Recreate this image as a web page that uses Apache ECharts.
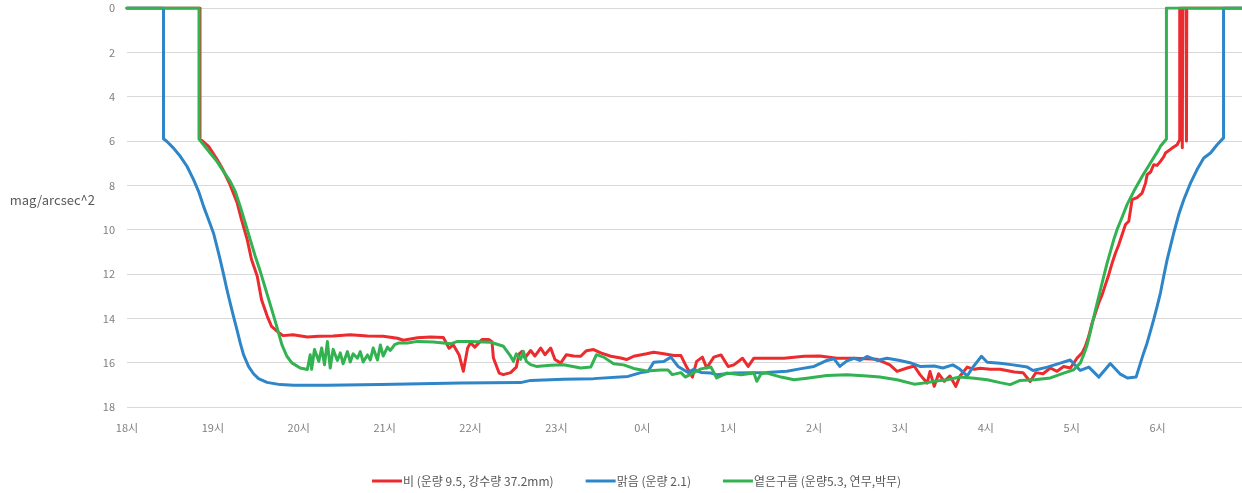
<!DOCTYPE html>
<html>
<head>
<meta charset="utf-8">
<script src="https://cdn.jsdelivr.net/npm/echarts@6/dist/echarts.min.js"></script>
<style>
  html, body { margin: 0; padding: 0; background: #fff; }
  #chart { width: 1242px; height: 493px; }
</style>
</head>
<body>
<div id="chart"></div>
<script>
// Sky brightness over one night, [minutes after 18:00, mag/arcsec^2]
const seriesNames = ['비 (운량 9.5, 강수량 37.2mm)', '맑음 (운량 2.1)', '옅은구름 (운량5.3, 연무,박무)'];
const seriesColors = ['#EC2B2E', '#2E86C9', '#32B251'];
const hourLabels = ['18시', '19시', '20시', '21시', '22시', '23시', '0시', '1시', '2시', '3시', '4시', '5시', '6시'];

const rainNight = [
  [0, 0], [51, 0], [51, 5.91], [57, 6.24], [63, 6.84], [67, 7.29], [72, 7.97], [77, 8.8], [80, 9.55],
  [84, 10.45], [87, 11.35], [91, 12.1], [94, 13.16], [98, 13.91], [101, 14.36], [105, 14.59], [109, 14.78],
  [116, 14.74], [126, 14.84], [134, 14.81], [144, 14.8], [156, 14.74], [168, 14.8], [179, 14.81],
  [189, 14.9], [193, 14.99], [203, 14.88], [212, 14.84], [221, 14.86], [225, 15.35], [228, 15.2],
  [232, 15.64], [235, 16.39], [238, 15.34], [240, 15.1], [243, 15.3], [248, 14.96], [253, 14.96],
  [255, 15.05], [256, 15.79], [260, 16.47], [263, 16.54], [268, 16.45], [272, 16.2], [274, 15.6],
  [276, 15.49], [278, 15.79], [282, 15.45], [285, 15.7], [289, 15.34], [292, 15.64], [296, 15.34],
  [299, 15.86], [303, 16.02], [307, 15.64], [312, 15.7], [317, 15.71], [321, 15.46], [326, 15.41],
  [331, 15.56], [338, 15.71], [345, 15.79], [349, 15.86], [354, 15.71], [363, 15.6], [368, 15.53],
  [375, 15.6], [382, 15.68], [387, 15.68], [391, 16.2], [395, 16.65], [398, 15.94], [402, 15.75],
  [405, 16.24], [410, 15.75], [415, 15.65], [420, 16.17], [424, 16.1], [430, 15.8], [434, 16.17],
  [438, 15.8], [450, 15.8], [459, 15.8], [473, 15.71], [484, 15.7], [496, 15.8], [508, 15.8],
  [524, 15.85], [533, 16.1], [538, 16.39], [545, 16.24], [550, 16.15], [554, 16.54], [559, 16.92],
  [561, 16.4], [564, 17.07], [567, 16.5], [571, 16.84], [575, 16.6], [579, 17.07], [582, 16.6],
  [587, 16.2], [592, 16.3], [596, 16.25], [603, 16.3], [610, 16.3], [620, 16.42], [626, 16.45],
  [631, 16.85], [635, 16.45], [640, 16.5], [645.1, 16.24], [649.8, 16.39], [654.4, 16.17],
  [659.1, 16.24], [663.8, 15.79], [667.3, 15.56], [669.6, 15.26], [671.9, 14.81], [674.3, 14.21],
  [676.6, 13.76], [678.9, 13.31], [681.3, 12.93], [683.6, 12.48], [685.9, 12.03], [688.3, 11.5],
  [690.6, 11.05], [692.9, 10.68], [695.2, 10.23], [697.6, 9.77], [699.9, 9.62], [702.2, 8.65],
  [705.7, 8.55], [709.2, 8.35], [711.6, 7.9], [712.7, 7.52], [715.1, 7.4], [717.3, 7.07],
  [719.7, 7.1], [722, 6.92], [724.3, 6.72], [725.5, 6.54], [730.2, 6.32], [733.7, 6.17],
  [735.5, 5.94], [735.5, 0], [737, 0], [737.3, 6.3], [737.6, 0], [740, 0], [740.2, 6.0],
  [740.4, 0], [779, 0]
];

const clearNight = [
  [0, 0], [25.5, 0], [25.5, 5.9], [27.9, 6.02], [32.5, 6.32], [37.2, 6.69], [41.9, 7.14],
  [46.5, 7.74], [50, 8.27], [53.5, 8.95], [57, 9.55], [60.4, 10.15], [62.8, 10.75], [65.1, 11.35],
  [67.5, 12.03], [69.8, 12.7], [72.1, 13.31], [74.4, 13.91], [76.8, 14.51], [79.1, 15.11],
  [81.4, 15.64], [84.9, 16.17], [88.4, 16.5], [91.9, 16.72], [97.8, 16.89], [107, 16.99],
  [116.4, 17.02], [140, 17.02], [177, 16.99], [233, 16.92], [275, 16.9], [282, 16.8], [305, 16.75],
  [326, 16.72], [350, 16.62], [359, 16.45], [364, 16.4], [368, 15.98], [375, 15.95], [380, 15.75],
  [385, 16.17], [392, 16.44], [396, 16.3], [401, 16.44], [408, 16.47], [412, 16.54], [424, 16.47],
  [447, 16.44], [461, 16.39], [470, 16.28], [480, 16.17], [489, 15.9], [494, 15.83], [498, 16.17],
  [503, 15.92], [508, 15.8], [512, 15.9], [517, 15.72], [524, 15.9], [531, 15.8], [540, 15.9],
  [547, 16.0], [554, 16.17], [564, 16.15], [570, 16.24], [577, 16.1], [582, 16.3], [587, 16.6],
  [591, 16.2], [597, 15.71], [601, 15.98], [610, 16.03], [619, 16.1], [629, 16.2], [633, 16.35],
  [643, 16.2], [652, 16.02], [659, 15.88], [666, 16.35], [672, 16.2], [679, 16.65], [687, 16.04],
  [694, 16.52], [699, 16.69], [705, 16.65], [708.1, 16.01], [710.3, 15.56], [712.7, 15.11],
  [715, 14.59], [717.3, 14.06], [719.7, 13.46], [722, 12.86], [724.3, 12.1], [726.7, 11.35],
  [729, 10.75], [731.3, 10.15], [734.8, 9.32], [738.3, 8.65], [743, 7.9], [747.6, 7.29],
  [752.3, 6.77], [757, 6.54], [761.6, 6.17], [766.1, 5.86], [766.1, 0], [779, 0]
];

const thinCloudNight = [
  [0, 0], [50.3, 0], [50.3, 5.91], [53.5, 6.17], [58.1, 6.54], [62.8, 6.92], [67.4, 7.37],
  [72.1, 7.82], [75.6, 8.27], [79.1, 8.95], [82.6, 9.7], [86.1, 10.45], [89.6, 11.2], [93.1, 11.88],
  [96.6, 12.63], [100.1, 13.38], [103.6, 14.14], [105.9, 14.66], [108.2, 15.19], [111.7, 15.71],
  [115.2, 16.01], [121, 16.24], [126, 16.31], [128, 15.64], [129, 16.3], [131, 15.41], [134, 15.94],
  [136, 15.34], [138, 16.09], [140, 15.05], [142, 16.24], [144, 15.4], [147, 15.9], [149, 15.56],
  [151, 16.05], [154, 15.5], [156, 15.97], [158, 15.6], [161, 15.8], [163, 15.5], [165, 15.97],
  [168, 15.65], [170, 15.88], [172, 15.34], [175, 15.88], [177, 15.2], [179, 15.7], [182, 15.3],
  [184, 15.45], [187, 15.19], [190, 15.11], [196, 15.11], [203, 15.04], [214, 15.07], [221, 15.11],
  [226, 15.15], [231, 15.04], [240, 15.04], [254, 15.08], [263, 15.26], [268, 15.71], [270, 15.94],
  [272, 15.6], [275, 15.85], [277, 15.49], [279, 15.94], [282, 16.09], [286, 16.17], [296, 16.12],
  [305, 16.09], [317, 16.24], [324, 16.2], [328, 15.64], [333, 15.75], [340, 16.05], [347, 16.1],
  [354, 16.26], [363, 16.38], [373, 16.33], [378, 16.33], [381, 16.54], [387, 16.45], [390, 16.65],
  [396, 16.45], [401, 16.28], [408, 16.2], [412, 16.69], [419, 16.47], [429, 16.54], [438, 16.47],
  [440, 16.84], [443, 16.5], [447, 16.47], [457, 16.65], [466, 16.77], [475, 16.7], [489, 16.58],
  [503, 16.54], [517, 16.6], [526, 16.65], [538, 16.77], [550, 16.97], [559, 16.9], [564, 16.84],
  [573, 16.77], [582, 16.65], [592, 16.7], [601, 16.77], [610, 16.9], [617, 16.99], [624, 16.8],
  [634, 16.77], [645.1, 16.69], [654.4, 16.47], [661.4, 16.32], [666.1, 16.01], [668.4, 15.64],
  [670.8, 15.2], [673.1, 14.6], [675.4, 13.95], [677.8, 13.31], [680.1, 12.71], [682.4, 12.11],
  [684.8, 11.5], [687.1, 10.98], [689.4, 10.45], [691.7, 10.0], [694.1, 9.62], [696.4, 9.25],
  [698.7, 8.87], [703.4, 8.27], [709.2, 7.6], [715, 6.99], [720.8, 6.39], [722, 6.24],
  [726.2, 5.91], [726.2, 0], [779, 0]
];

const seriesData = [rainNight, clearNight, thinCloudNight];

const chart = echarts.init(document.getElementById('chart'), null, { renderer: 'canvas' });

const fontFamily = '"Noto Sans CJK KR", "Noto Sans", sans-serif';

chart.setOption({
  animation: false,
  backgroundColor: '#ffffff',
  grid: { left: 127, top: 8, width: 1115, height: 399, containLabel: false },
  legend: {
    left: 372,
    top: 475,
    padding: 0,
    itemWidth: 30,
    itemHeight: 3,
    itemGap: 32,
    icon: 'rect',
    textStyle: { color: '#595959', fontSize: 12, fontFamily: fontFamily, padding: [0, 0, 0, -4] },
    data: seriesNames
  },
  xAxis: {
    type: 'value',
    min: 0,
    max: 779,
    interval: 60,
    axisLine: { show: false },
    axisTick: { show: false },
    splitLine: { show: false },
    axisLabel: {
      color: '#808080',
      fontSize: 11,
      fontFamily: fontFamily,
      margin: 15,
      showMaxLabel: false,
      formatter: function (v) {
        if (v % 60 !== 0) return '';
        return hourLabels[v / 60] || '';
      }
    }
  },
  yAxis: {
    type: 'value',
    inverse: true,
    min: 0,
    max: 18,
    interval: 2,
    name: 'mag/arcsec^2',
    nameLocation: 'middle',
    nameRotate: 0,
    nameGap: 32,
    nameTextStyle: { color: '#595959', fontSize: 13, fontFamily: fontFamily, verticalAlign: 'bottom', lineHeight: 14 },
    axisLine: { show: false },
    axisTick: { show: false },
    splitLine: { lineStyle: { color: '#D9D9D9', width: 1 } },
    axisLabel: { color: '#808080', fontSize: 11, fontFamily: fontFamily, margin: 12 }
  },
  series: seriesNames.map(function (name, i) {
    return {
      name: name,
      type: 'line',
      data: seriesData[i],
      showSymbol: false,
      symbol: 'none',
      color: seriesColors[i],
      lineStyle: { width: 3, color: seriesColors[i], join: 'round', cap: 'round' },
      z: 2 + i
    };
  })
});
</script>
</body>
</html>
